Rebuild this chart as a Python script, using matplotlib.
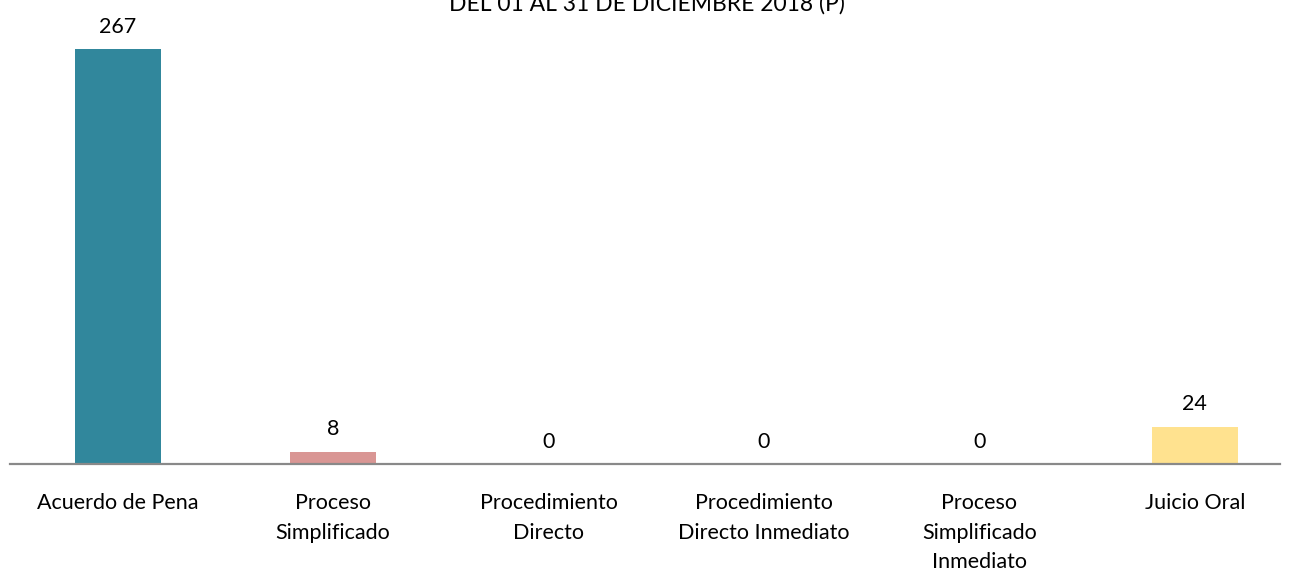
import matplotlib.pyplot as plt

# Data
categories = ['Acuerdo de Pena', 'Proceso\nSimplificado', 'Procedimiento\nDirecto',
              'Procedimiento\nDirecto Inmediato', 'Proceso\nSimplificado\nInmediato', 'Juicio Oral']
values = [267, 8, 0, 0, 0, 24]
colors = ['#31879C', '#D99694', '#D99694', '#D99694', '#D99694', '#FFE28F']

plt.rcParams['font.family'] = ['Lato', 'DejaVu Sans']

fig = plt.figure(figsize=(12.9, 5.71), dpi=100)
ax = fig.add_axes([10 / 1290, 107 / 571, 1270 / 1290, 464 / 571])

x = list(range(len(categories)))
bars = ax.bar(x, values, width=0.4, color=colors, zorder=2)

ax.set_xlim(-0.5, -0.5 + 1270 / 215.4)
ax.set_ylim(0, 298.6)

for xi, v in zip(x, values):
    ax.annotate(str(v), (xi, v), xytext=(0, 9), textcoords='offset points',
                ha='center', va='bottom', fontsize=15.5, color='#000000')

ax.set_xticks(x)
ax.set_xticklabels(categories, fontsize=15.5, linespacing=1.6, va='top')
ax.tick_params(axis='x', length=0, pad=21)
ax.set_yticks([])

for side in ['top', 'right', 'left']:
    ax.spines[side].set_visible(False)
ax.spines['bottom'].set_color('#898989')
ax.spines['bottom'].set_linewidth(1.6)

fig.text(647 / 1290, 1 - 4 / 571, 'DEL 01 AL 31 DE DICIEMBRE 2018 (P)',
         ha='center', va='center', fontsize=16.5, color='#000000')

fig.savefig('out.png', dpi=100)
